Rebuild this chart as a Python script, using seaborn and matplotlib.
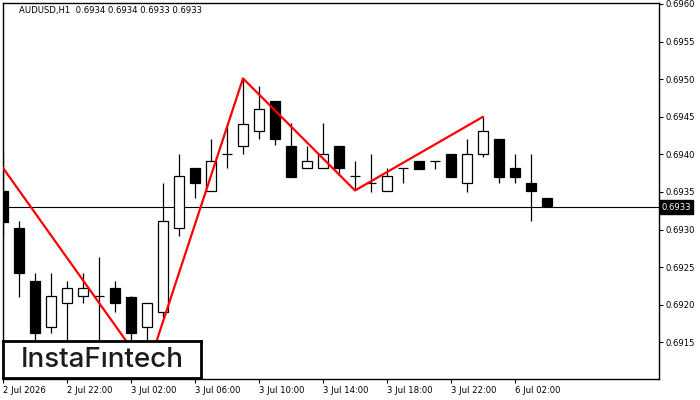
import matplotlib
matplotlib.use('Agg')
import matplotlib.pyplot as plt
import matplotlib.transforms as mtransforms
import seaborn as sns

# hourly candles, 2 Jul 18:00 .. 6 Jul 04:00
opens = [0.69351, 0.69302, 0.69231, 0.69171, 0.69202, 0.69212, 0.69212, 0.69222, 0.69211, 0.69171,
         0.69191, 0.69302, 0.69382, 0.69351, 0.69400, 0.69411, 0.69431, 0.69471, 0.69411, 0.69382,
         0.69382, 0.69411, 0.69371, 0.69362, 0.69351, 0.69382, 0.69391, 0.69391, 0.69401, 0.69362,
         0.69400, 0.69421, 0.69382, 0.69362, 0.69342]
highs = [0.69402, 0.69311, 0.69242, 0.69242, 0.69232, 0.69242, 0.69263, 0.69232, 0.69212, 0.69202,
         0.69362, 0.69401, 0.69382, 0.69421, 0.69441, 0.69501, 0.69491, 0.69471, 0.69442, 0.69411,
         0.69442, 0.69411, 0.69391, 0.69401, 0.69382, 0.69382, 0.69391, 0.69391, 0.69401, 0.69421,
         0.69450, 0.69421, 0.69401, 0.69401, 0.69342]
lows = [0.69290, 0.69211, 0.69130, 0.69162, 0.69120, 0.69202, 0.69110, 0.69191, 0.69130, 0.69113,
        0.69182, 0.69291, 0.69342, 0.69351, 0.69382, 0.69400, 0.69421, 0.69412, 0.69370, 0.69382,
        0.69382, 0.69373, 0.69352, 0.69350, 0.69351, 0.69362, 0.69381, 0.69381, 0.69370, 0.69350,
        0.69396, 0.69362, 0.69362, 0.69311, 0.69331]
closes = [0.69310, 0.69242, 0.69162, 0.69212, 0.69222, 0.69222, 0.69212, 0.69202, 0.69162, 0.69202,
          0.69311, 0.69371, 0.69362, 0.69391, 0.69400, 0.69441, 0.69461, 0.69421, 0.69370, 0.69391,
          0.69400, 0.69382, 0.69371, 0.69362, 0.69371, 0.69382, 0.69381, 0.69391, 0.69370, 0.69401,
          0.69431, 0.69370, 0.69370, 0.69351, 0.69331]

time_labels = ['2 Jul 2026', '2 Jul 22:00', '3 Jul 02:00', '3 Jul 06:00', '3 Jul 10:00',
               '3 Jul 14:00', '3 Jul 18:00', '3 Jul 22:00', '6 Jul 02:00']
label_idx = [0, 4, 8, 12, 16, 20, 24, 28, 32]

price_ticks = [0.6915, 0.6920, 0.6925, 0.6930, 0.6935, 0.6940, 0.6945, 0.6950, 0.6955, 0.6960]

# double top pattern lines
pattern_x = [0, 9, 15, 22, 30]
pattern_y = [0.69382, 0.69113, 0.69501, 0.69352, 0.69450]

last_price = 0.6933
header = 'AUDUSD,H1  0.6934 0.6934 0.6933 0.6933'

sns.set_style('white')
plt.rcParams['font.family'] = ['DejaVu Sans']

fig = plt.figure(figsize=(7, 4), dpi=100)
ax = fig.add_axes([3 / 700, 21 / 400, 656 / 700, 376 / 400])

ax.axhline(last_price, color='black', lw=0.8, zorder=1)

n = len(opens)
for i in range(n):
    o, h, l, c = opens[i], highs[i], lows[i], closes[i]
    ax.vlines(i, l, h, color='black', lw=0.9, zorder=2)
    if abs(c - o) < 1e-6:
        ax.hlines(o, i - 0.31, i + 0.31, color='black', lw=0.9, zorder=3)
    else:
        fc = 'white' if c > o else 'black'
        ax.bar(i, abs(c - o), bottom=min(o, c), width=0.62, color=fc,
               edgecolor='black', linewidth=0.9, zorder=3)

sns.lineplot(x=pattern_x, y=pattern_y, sort=False, color='red', linewidth=1.6,
             ax=ax, zorder=4)

ax.set_xlim(0, 41)
ax.set_ylim(0.691013, 0.696013)

ax.yaxis.tick_right()
ax.set_yticks(price_ticks)
ax.set_yticklabels([f'{p:.4f}' for p in price_ticks])
ax.set_xticks(label_idx)
ax.set_xticklabels(time_labels, ha='left')
ax.tick_params(axis='both', length=3, width=0.8, color='black', labelsize=6.1,
               labelcolor='black', pad=2, direction='out')
ax.tick_params(axis='y', right=True, left=False)
ax.tick_params(axis='x', bottom=True)
ax.set_xlabel('')
ax.set_ylabel('')
for s in ax.spines.values():
    s.set_color('black')
    s.set_linewidth(1)

# last price tag
trans = mtransforms.blended_transform_factory(ax.transAxes, ax.transData)
ax.text(1.004, last_price, f'{last_price:.4f}', transform=trans, color='white',
        fontsize=6.1, va='center', ha='left', clip_on=False,
        bbox=dict(boxstyle='square,pad=0.25', fc='black', ec='black'))

fig.text(19 / 700, 1 - 11 / 400, header, fontsize=6.1, va='center', ha='left', color='black')

# logo box
logo = fig.add_axes([3 / 700, 22 / 400, 198 / 700, 37 / 400])
logo.set_xticks([])
logo.set_yticks([])
logo.set_facecolor('white')
for s in logo.spines.values():
    s.set_color('black')
    s.set_linewidth(2)
logo.text(0.5, 0.48, 'InstaF\u0131ntech', fontsize=20, family=['Inter', 'DejaVu Sans'],
          fontweight='medium', color='#1c1c1c', ha='center', va='center')

fig.savefig('out.png', dpi=100)
